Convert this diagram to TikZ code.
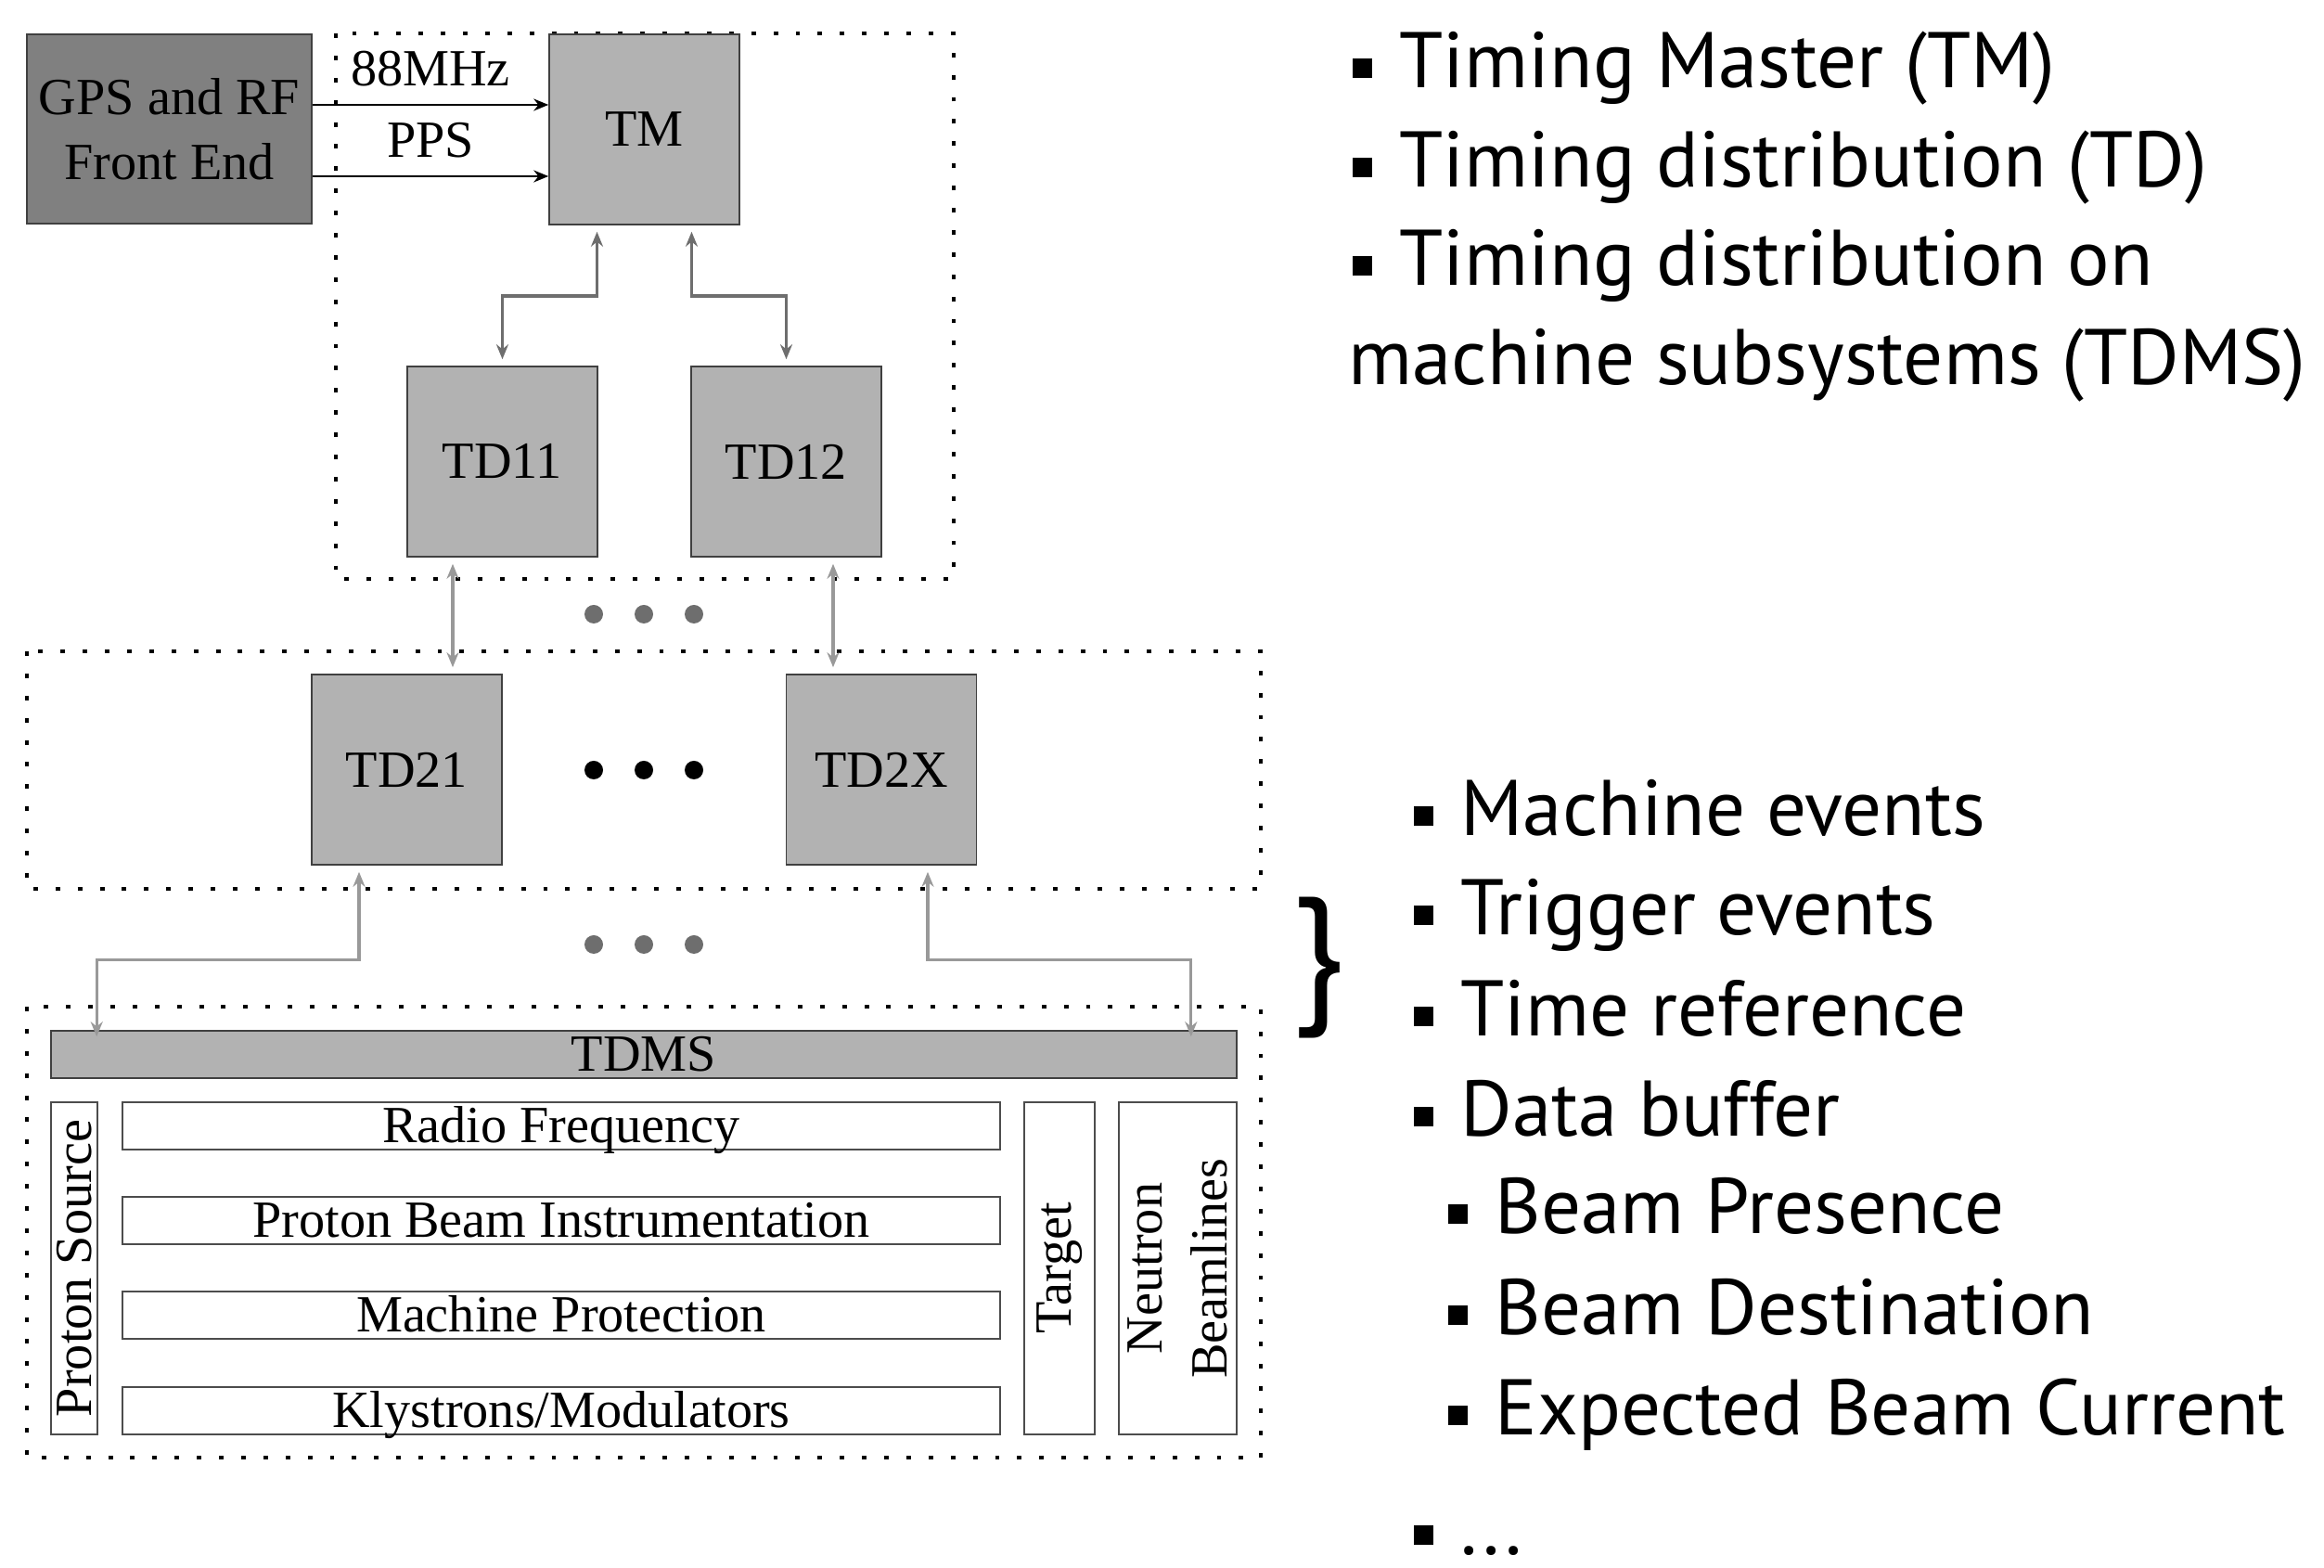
\documentclass[tikz,border=0pt]{standalone}
\usepackage{fontspec}
\setmainfont{Liberation Serif}
\newfontfamily\listfont{PT Sans}
\usetikzlibrary{arrows.meta, positioning}
\newcommand{\sq}{\rule[0.11cm]{0.21cm}{0.21cm}\hspace{0.3cm}}

\begin{document}
\begin{tikzpicture}[>={Stealth[length=1.6mm,width=1.3mm]},
    font=\fontsize{16}{20}\selectfont,
    unit/.style={draw=black!75, line width=0.45pt, fill=black!30, minimum width=2.05cm, minimum height=2.05cm, inner sep=0pt},
    sub/.style={draw=black!70, line width=0.5pt, fill=white, inner sep=0pt},
    bar/.style={sub, minimum width=9.46cm, minimum height=0.51cm, text height=0.37cm, text depth=0pt},
    grp/.style={line width=1.4pt, dash pattern=on 1.4pt off 5.4pt},
    sig/.style={->, line width=0.55pt},
    link/.style={<->, line width=1.05pt, draw=black!57, shorten <=0.07cm, shorten >=0.07cm},
    tap/.style={<->, line width=0.9pt, draw=black!40, shorten <=0.07cm, shorten >=0.07cm},
    item/.style={anchor=base west, inner sep=0pt, font=\listfont\fontsize{24.2}{29}\selectfont}]

    \useasboundingbox (0,0) rectangle (25.05,-16.90);

    % dotted groups
    \draw[grp] (3.62,-0.36) rectangle (10.28,-6.24);
    \draw[grp] (0.29,-7.02) rectangle (13.59,-9.58);
    \draw[grp] (0.29,-10.85) rectangle (13.59,-15.71);

    % timing boxes
    \node[unit, fill=black!50, minimum width=3.07cm, minimum height=2.04cm, align=center] (gps) at (1.825,-1.39) {GPS and RF\\Front End};
    \node[unit] (tm) at (6.945,-1.395) {TM};
    \node[unit] (td11) at (5.415,-4.975) {TD11};
    \node[unit] (td12) at (8.475,-4.975) {TD12};
    \node[unit] (td21) at (4.385,-8.295) {TD21};
    \node[unit] (td2x) at (9.50,-8.295) {TD2X};
    \node[unit, minimum width=12.78cm, minimum height=0.51cm] (tdms) at (6.94,-11.365) {TDMS};

    % machine subsystems
    \node[sub, rotate=90, minimum width=3.58cm, minimum height=0.5cm] (psrc) at (0.80,-13.67) {Proton Source};
    \node[bar] (rf) at (6.05,-12.135) {Radio Frequency};
    \node[bar] (pbi) at (6.05,-13.155) {Proton Beam Instrumentation};
    \node[bar] (mp) at (6.05,-14.175) {Machine Protection};
    \node[bar] (kly) at (6.05,-15.205) {Klystrons/Modulators};
    \node[sub, rotate=90, minimum width=3.58cm, minimum height=0.76cm] (tgt) at (11.42,-13.67) {Target};
    \node[sub, rotate=90, minimum width=3.58cm, minimum height=1.27cm, align=center] (nbl) at (12.695,-13.67) {Neutron\\Beamlines};

    % signals
    \draw[sig] ([yshift=0.26cm]gps.east) -- node[above, yshift=2pt] {88MHz} ([yshift=0.26cm]gps.east -| tm.west);
    \draw[sig] ([yshift=-0.51cm]gps.east) -- node[above, yshift=2pt] {PPS} ([yshift=-0.51cm]gps.east -| tm.west);

    \draw[link] ([xshift=-0.51cm]tm.south) -- ++(0,-0.76) -| (td11.north);
    \draw[link] ([xshift=0.51cm]tm.south) -- ++(0,-0.76) -| (td12.north);

    \draw[tap] ([xshift=-0.535cm]td11.south) -- ([xshift=-0.535cm]td11.south |- td21.north);
    \draw[tap] ([xshift=0.505cm]td12.south) -- ([xshift=0.505cm]td12.south |- td2x.north);

    \draw[tap, shorten >=-0.07cm] ([xshift=-0.515cm]td21.south) -- ++(0,-1.02) -| ([xshift=0.5cm]tdms.north west);
    \draw[tap, shorten >=-0.07cm] ([xshift=0.5cm]td2x.south) -- ++(0,-1.02) -| ([xshift=-0.5cm]tdms.north east);

    % ellipses
    \fill[black!57] (6.40,-6.62) circle (0.1) (6.94,-6.62) circle (0.1) (7.48,-6.62) circle (0.1);
    \fill (6.40,-8.30) circle (0.1) (6.94,-8.30) circle (0.1) (7.48,-8.30) circle (0.1);
    \fill[black!57] (6.40,-10.18) circle (0.1) (6.94,-10.18) circle (0.1) (7.48,-10.18) circle (0.1);

    % roles
    \node[item] (r1) at (14.57,-0.95) {\sq Timing Master (TM)};
    \node[item] (r2) at (14.57,-2.02) {\sq Timing distribution (TD)};
    \node[item] (r3) at (14.57,-3.08) {\sq Timing distribution on};
    \node[item] (r4) at (14.53,-4.15) {machine subsystems (TDMS)};

    % payload
    \node[inner sep=0pt] (brace) at (14.20,-10.43) {\resizebox*{0.58cm}{1.52cm}{\listfont\}}};
    \node[item] (p1) at (15.23,-9.01) {\sq Machine events};
    \node[item] (p2) at (15.23,-10.08) {\sq Trigger events};
    \node[item] (p3) at (15.23,-11.17) {\sq Time reference};
    \node[item] (p4) at (15.23,-12.25) {\sq Data buffer};
    \node[item] (p5) at (15.60,-13.30) {\sq Beam Presence};
    \node[item] (p6) at (15.60,-14.39) {\sq Beam Destination};
    \node[item] (p7) at (15.60,-15.47) {\sq Expected Beam Current};
    \node[item] (p8) at (15.23,-16.76) {\sq ...};
\end{tikzpicture}
\end{document}
